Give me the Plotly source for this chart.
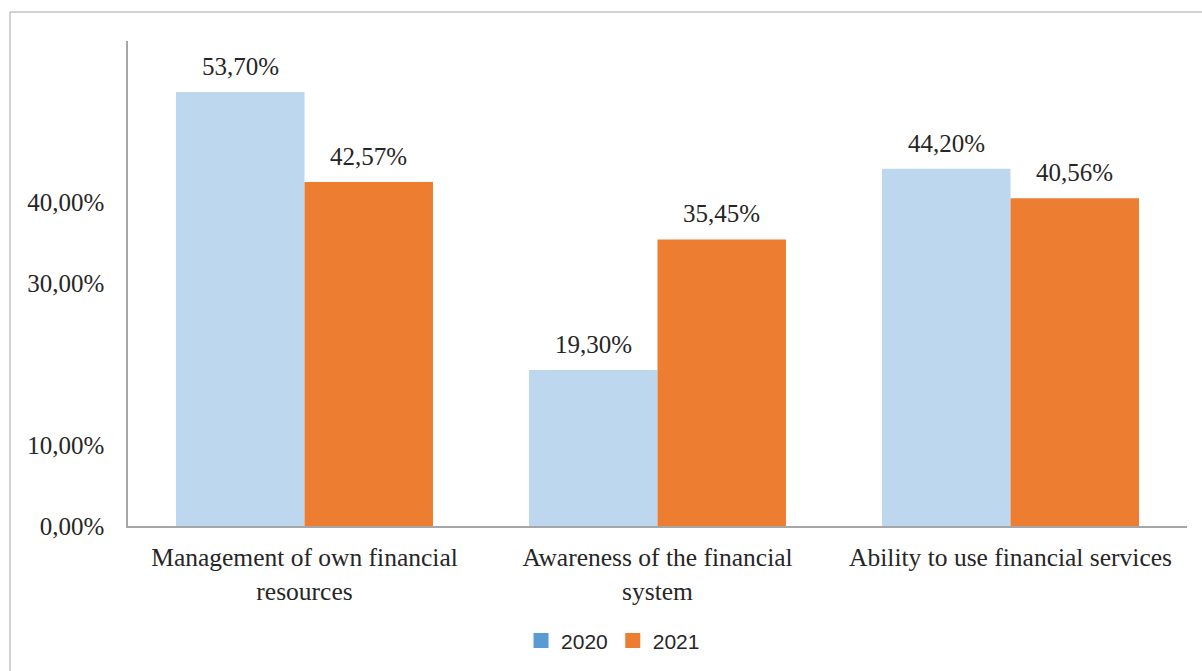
import numpy as np
import plotly.graph_objects as go

categories = ["Management of own financial<br>resources",
              "Awareness of the financial<br>system",
              "Ability to use financial services"]
values_2020 = [53.70, 19.30, 44.20]
values_2021 = [42.57, 35.45, 40.56]
series_names = ["2020", "2021"]
y_tick_vals = [0, 10, 30, 40]
y_tick_text = ["0,00%", "10,00%", "30,00%", "40,00%"]

bar_colors = ["#BDD7EE", "#ED7D31"]
legend_colors = ["#5B9BD5", "#ED7D31"]
axis_grey = "#A6A6A6"
text_color = "#262626"
serif = "Liberation Serif"
sans = "Liberation Sans"

W, H = 1202, 671
M = dict(l=128, r=15, t=41, b=145)

idx = np.arange(len(categories))
bar_w = 0.364
offsets = [-bar_w / 2, bar_w / 2]


def pct(v):
    return f"{v:.2f}".replace(".", ",") + "%"


fig = go.Figure()
for name, vals, col, off in zip(series_names, [values_2020, values_2021], bar_colors, offsets):
    fig.add_trace(go.Bar(x=idx + off, y=vals, width=bar_w, marker_color=col,
                         marker_line_width=0, showlegend=False, name=name))
    for xi, v in zip(idx + off, vals):
        fig.add_annotation(x=xi, y=v, text=pct(v), showarrow=False,
                           yanchor="bottom", yshift=10,
                           font=dict(family=serif, size=25, color=text_color))

# legend entries use the darker swatch colour
for name, col in zip(series_names, legend_colors):
    fig.add_trace(go.Scatter(x=[None], y=[None], name=name, mode="markers",
                             marker=dict(symbol="square", size=15, color=col),
                             showlegend=True))

# outer chart frame
pw = W - M["l"] - M["r"]
ph = H - M["t"] - M["b"]
fig.add_shape(type="rect", xref="paper", yref="paper",
              x0=(10 - M["l"]) / pw, x1=1 + 30 / pw,
              y0=-(M["b"] + 10) / ph, y1=1 + (M["t"] - 12) / ph,
              line=dict(color=axis_grey, width=1), fillcolor="rgba(0,0,0,0)",
              layer="below")

fig.update_layout(
    width=W, height=H, margin=M,
    barmode="overlay",
    paper_bgcolor="white", plot_bgcolor="white",
    font=dict(family=serif, size=25, color=text_color),
    xaxis=dict(range=[-0.5, 2.5], tickvals=idx, ticktext=categories,
               showline=True, linecolor=axis_grey, linewidth=1.5,
               showgrid=False, zeroline=False, ticks="", ticklabelstandoff=8,
               tickfont=dict(family=serif, size=25.5, color=text_color)),
    yaxis=dict(range=[0, 60], tickvals=y_tick_vals, ticktext=y_tick_text,
               showline=True, linecolor=axis_grey, linewidth=1.5,
               showgrid=False, zeroline=False, ticks="", ticklabelstandoff=17,
               tickfont=dict(family=serif, size=25, color=text_color)),
    legend=dict(orientation="h", x=0.51, xanchor="center", xref="container",
                y=0.045, yanchor="middle", yref="container",
                font=dict(family=sans, size=21, color=text_color),
                itemwidth=30, tracegroupgap=0),
)

fig.write_html("out.html")
